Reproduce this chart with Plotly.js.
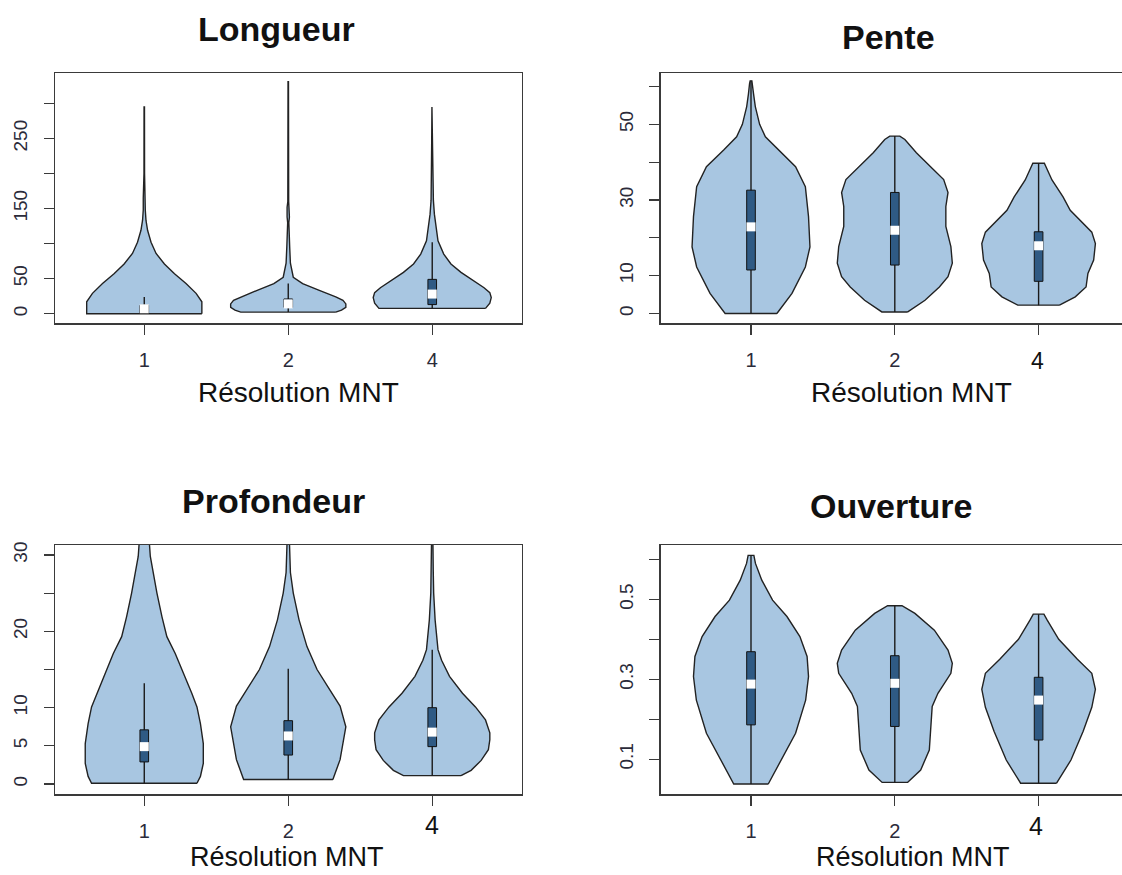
<!DOCTYPE html>
<html>
<head>
<meta charset="utf-8">
<script src="https://cdn.plot.ly/plotly-3.0.1.min.js"></script>
<style>html,body{margin:0;padding:0;background:#fff;}#chart{width:1122px;height:875px;}</style>
</head>
<body>
<div id="chart"></div>
<script>
// ---------- data ----------
const positions = [1, 2, 3];
const tickLabels = ['1', '2', '4'];
const panelTitles = ['Longueur', 'Pente', 'Profondeur', 'Ouverture'];
const xTitle = 'Résolution MNT';

// Longueur: violin outline levels (value) and half-widths (category units)
const longueur1Y = [0, 17, 29, 43, 57, 71, 86, 102, 119, 133, 148, 165, 181, 200, 295];
const longueur1W = [0.40, 0.40, 0.36, 0.29, 0.21, 0.14, 0.082, 0.047, 0.023, 0.012, 0.007, 0.007, 0.006, 0.002, 0.0015];
const longueur2Y = [2.3, 5, 9, 14, 19, 24, 33, 43, 52, 72, 95, 130, 138, 152, 160, 331];
const longueur2W = [0.33, 0.37, 0.40, 0.40, 0.38, 0.33, 0.22, 0.10, 0.035, 0.015, 0.01, 0.004, 0.008, 0.008, 0.003, 0.0015];
const longueur3Y = [7.6, 15, 23, 30, 37, 47, 59, 71, 85, 104, 123, 142, 162, 200, 240, 295];
const longueur3W = [0.37, 0.40, 0.41, 0.40, 0.36, 0.29, 0.20, 0.13, 0.08, 0.04, 0.025, 0.015, 0.008, 0.006, 0.004, 0.002];
// box stats: [lower whisker, Q1, median, Q3, upper whisker]
const longueurStats = [[0, 1, 7, 12, 24], [2.3, 9, 14, 21, 43], [7.6, 13, 28, 49, 102]];

// Pente
const pente1Y = [0, 5.3, 12.3, 17.6, 25.6, 33.5, 38.8, 43.2, 46.7, 50, 54.7, 58, 60.8, 61.5];
const pente1W = [0.18, 0.285, 0.378, 0.41, 0.40, 0.378, 0.31, 0.19, 0.10, 0.06, 0.03, 0.018, 0.01, 0.006];
const pente2Y = [0.4, 3.5, 7, 9.7, 13.3, 17.7, 23, 28.3, 32, 35.4, 38, 42.5, 46, 46.9];
const pente2W = [0.09, 0.21, 0.31, 0.37, 0.40, 0.39, 0.355, 0.355, 0.37, 0.34, 0.27, 0.15, 0.07, 0.035];
const pente3Y = [2.2, 4.4, 7.0, 10.6, 14.1, 18.5, 21.5, 24.7, 27.3, 30.8, 35.3, 39.7];
const pente3W = [0.145, 0.255, 0.33, 0.343, 0.383, 0.395, 0.37, 0.29, 0.22, 0.17, 0.093, 0.04];
const penteStats = [[0, 11.5, 22.9, 32.6, 61.5], [0.4, 12.8, 22, 32, 46.9], [2.2, 8.5, 17.9, 21.6, 39.7]];

// Profondeur
const profondeur1Y = [0.1, 1, 2.7, 5.3, 7.9, 10.1, 11.9, 14.5, 17.1, 19.3, 21.9, 25, 27.2, 29.8, 33];
const profondeur1W = [0.366, 0.39, 0.41, 0.41, 0.39, 0.366, 0.33, 0.27, 0.215, 0.157, 0.123, 0.088, 0.065, 0.042, 0.03];
const profondeur2Y = [0.6, 3.2, 7.5, 10.2, 12.3, 15, 18, 21.5, 25, 27.7, 33];
const profondeur2W = [0.31, 0.36, 0.40, 0.36, 0.29, 0.20, 0.13, 0.075, 0.035, 0.015, 0.006];
const profondeur3Y = [1.1, 1.8, 3.1, 4.5, 5.8, 6.7, 8.4, 10.1, 11.9, 14.1, 16.2, 17.6, 21.5, 25, 28, 33];
const profondeur3W = [0.2, 0.27, 0.34, 0.39, 0.40, 0.40, 0.37, 0.30, 0.21, 0.12, 0.065, 0.04, 0.02, 0.01, 0.007, 0.004];
const profondeurStats = [[0.1, 2.9, 4.9, 7.1, 13.2], [0.6, 3.8, 6.3, 8.3, 15.1], [1.1, 4.9, 6.8, 10.0, 17.6]];

// Ouverture
const ouverture1Y = [0.038, 0.098, 0.165, 0.248, 0.307, 0.357, 0.407, 0.457, 0.498, 0.548, 0.59, 0.61];
const ouverture1W = [0.12, 0.21, 0.31, 0.38, 0.40, 0.39, 0.34, 0.25, 0.15, 0.075, 0.031, 0.02];
const ouverture2Y = [0.042, 0.073, 0.123, 0.182, 0.232, 0.265, 0.315, 0.34, 0.373, 0.423, 0.465, 0.484];
const ouverture2W = [0.088, 0.18, 0.24, 0.252, 0.26, 0.30, 0.39, 0.40, 0.37, 0.275, 0.14, 0.05];
const ouverture3Y = [0.04, 0.098, 0.17, 0.23, 0.275, 0.315, 0.35, 0.4, 0.448, 0.463];
const ouverture3W = [0.125, 0.225, 0.31, 0.37, 0.395, 0.37, 0.27, 0.14, 0.06, 0.037];
const ouvertureStats = [[0.038, 0.186, 0.288, 0.369, 0.61], [0.042, 0.182, 0.29, 0.359, 0.484], [0.04, 0.148, 0.248, 0.305, 0.463]];

// y-axis ticks
const longueurTicks = [0, 50, 100, 150, 200, 250, 300];
const longueurTickText = ['0', '50', '', '150', '', '250', ''];
const penteTicks = [0, 10, 20, 30, 40, 50, 60];
const penteTickText = ['0', '10', '', '30', '', '50', ''];
const profondeurTicks = [0, 5, 10, 15, 20, 25, 30];
const profondeurTickText = ['0', '5', '10', '', '20', '', '30'];
const ouvertureTicks = [0.1, 0.2, 0.3, 0.4, 0.5, 0.6];
const ouvertureTickText = ['0.1', '', '0.3', '', '0.5', ''];

// ---------- drawing ----------
const W = 1122, H = 875;
const FONT = 'Liberation Sans, Arial, Helvetica, sans-serif';
const violinFill = '#a8c6e1';
const boxFill = '#2f5a84';
const boxHalf = 0.03;

const panels = [
  {shapes: [[longueur1Y, longueur1W], [longueur2Y, longueur2W], [longueur3Y, longueur3W]], stats: longueurStats,
   ticks: longueurTicks, tickText: longueurTickText, range: [-13.7, 343], xr: [0.38, 3.62],
   dom: [55, 521.5, 73.3, 323.3], rightLine: true, lastTick: true},
  {shapes: [[pente1Y, pente1W], [pente2Y, pente2W], [pente3Y, pente3W]], stats: penteStats,
   ticks: penteTicks, tickText: penteTickText, range: [-2.6, 63.5], xr: [0.372, 3.58],
   dom: [660.7, 1122, 73.3, 323.3], rightLine: false, lastTick: false},
  {shapes: [[profondeur1Y, profondeur1W], [profondeur2Y, profondeur2W], [profondeur3Y, profondeur3W]], stats: profondeurStats,
   ticks: profondeurTicks, tickText: profondeurTickText, range: [-1.3, 31.3], xr: [0.38, 3.62],
   dom: [55, 521.5, 545, 794], rightLine: true, lastTick: false},
  {shapes: [[ouverture1Y, ouverture1W], [ouverture2Y, ouverture2W], [ouverture3Y, ouverture3W]], stats: ouvertureStats,
   ticks: ouvertureTicks, tickText: ouvertureTickText, range: [0.013, 0.636], xr: [0.372, 3.58],
   dom: [660.7, 1122, 545, 794], rightLine: false, lastTick: false}
];

const traces = [];
const layout = {
  width: W, height: H, margin: {l: 0, r: 0, t: 0, b: 0},
  paper_bgcolor: '#fff', plot_bgcolor: '#fff', showlegend: false,
  font: {family: FONT, color: '#222'}, annotations: []
};

panels.forEach((p, k) => {
  const xa = k === 0 ? 'x' : 'x' + (k + 1);
  const ya = k === 0 ? 'y' : 'y' + (k + 1);
  p.shapes.forEach((s, g) => {
    const pos = positions[g];
    const ys = s[0], ws = s[1];
    const xs = [], yy = [];
    for (let i = 0; i < ys.length; i++) { xs.push(pos + ws[i]); yy.push(ys[i]); }
    for (let i = ys.length - 1; i >= 0; i--) { xs.push(pos - ws[i]); yy.push(ys[i]); }
    xs.push(xs[0]); yy.push(yy[0]);
    traces.push({type: 'scatter', mode: 'lines', x: xs, y: yy, xaxis: xa, yaxis: ya,
      fill: 'toself', fillcolor: violinFill, line: {color: '#222', width: 1.4}, hoverinfo: 'skip'});
    const st = p.stats[g];
    traces.push({type: 'scatter', mode: 'lines', x: [pos, pos], y: [st[0], st[4]], xaxis: xa, yaxis: ya,
      line: {color: '#1a1a1a', width: 1.4}, hoverinfo: 'skip'});
    traces.push({type: 'scatter', mode: 'lines', xaxis: xa, yaxis: ya,
      x: [pos - boxHalf, pos + boxHalf, pos + boxHalf, pos - boxHalf, pos - boxHalf],
      y: [st[1], st[1], st[3], st[3], st[1]],
      fill: 'toself', fillcolor: boxFill, line: {color: '#111', width: 1}, hoverinfo: 'skip'});
    traces.push({type: 'scatter', mode: 'markers', x: [pos], y: [st[2]], xaxis: xa, yaxis: ya,
      marker: {symbol: 'square', size: 9, color: '#ffffff', line: {width: 0}}, hoverinfo: 'skip', cliponaxis: false});
  });
  const xkey = k === 0 ? 'xaxis' : 'xaxis' + (k + 1);
  const ykey = k === 0 ? 'yaxis' : 'yaxis' + (k + 1);
  layout[xkey] = {
    domain: [p.dom[0] / W, p.dom[1] / W], anchor: ya, range: p.xr,
    tickmode: 'array', tickvals: positions,
    ticktext: [tickLabels[0], tickLabels[1], p.lastTick ? tickLabels[2] : ''],
    ticks: 'outside', ticklen: 10, tickwidth: 1.2, tickcolor: '#3a3a3a',
    showline: true, mirror: true, linecolor: '#3a3a3a', linewidth: 1.5,
    showgrid: false, zeroline: false, ticklabelstandoff: 8,
    tickfont: {family: FONT, size: 20, color: '#2b2b3a'}, fixedrange: true
  };
  layout[ykey] = {
    domain: [1 - p.dom[3] / H, 1 - p.dom[2] / H], anchor: xa, range: p.range,
    tickmode: 'array', tickvals: p.ticks, ticktext: p.tickText, tickangle: -90,
    ticks: 'outside', ticklen: 10, tickwidth: 1.2, tickcolor: '#3a3a3a',
    showline: true, mirror: p.rightLine, linecolor: '#3a3a3a', linewidth: 1.5,
    showgrid: false, zeroline: false, ticklabelstandoff: 9,
    tickfont: {family: FONT, size: 19, color: '#2b2b3a'}, fixedrange: true
  };
});

function ann(text, px, py, size, bold) {
  layout.annotations.push({text: text, xref: 'paper', yref: 'paper', x: px / W, y: 1 - py / H,
    xanchor: 'center', yanchor: 'middle', showarrow: false,
    font: {family: FONT, size: size, color: '#111', weight: bold ? 'bold' : 'normal'}});
}
// panel titles
ann(panelTitles[0], 276, 29, 34, true);
ann(panelTitles[1], 888, 37, 34, true);
ann(panelTitles[2], 273, 501, 34, true);
ann(panelTitles[3], 891, 506, 34, true);
// x-axis titles
ann(xTitle, 298, 393, 28, false);
ann(xTitle, 911, 393, 28, false);
ann(xTitle, 287, 857, 27, false);
ann(xTitle, 913, 857, 27, false);
// enlarged "4" tick labels of panels 2-4
ann(tickLabels[2], 1037, 361, 23, false);
ann(tickLabels[2], 432, 825, 25, false);
ann(tickLabels[2], 1036, 826, 25, false);

Plotly.newPlot('chart', traces, layout, {displayModeBar: false, staticPlot: true});
</script>
</body>
</html>
